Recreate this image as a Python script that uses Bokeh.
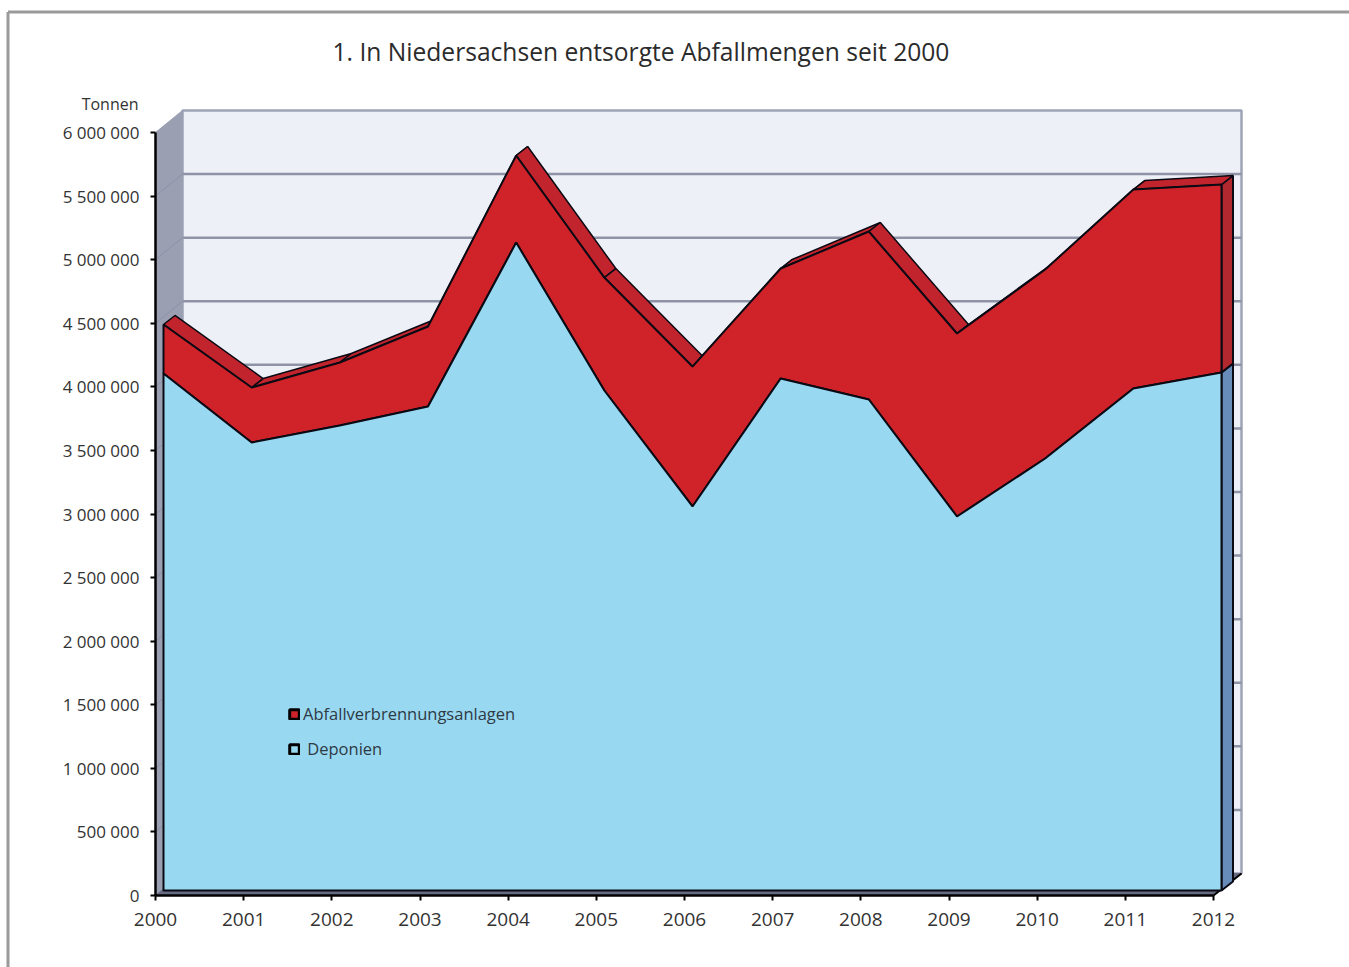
from bokeh.plotting import figure
from bokeh.embed import file_html
from bokeh.resources import INLINE
from bokeh.models import FixedTicker, Range1d, Legend, LegendItem, Label

TITLE = "1. In Niedersachsen entsorgte Abfallmengen seit 2000"
UNIT = "Tonnen"
FONT = "Open Sans"
years = [2000, 2001, 2002, 2003, 2004, 2005, 2006, 2007, 2008, 2009, 2010, 2011, 2012]
deponien = [4065000, 3523000, 3656000, 3806000, 5095000, 3932000, 3020000, 4026000, 3861000, 2941000, 3397000, 3947000, 4073000]
verbrennung = [386000, 432000, 496000, 629000, 685000, 888000, 1100000, 865000, 1321000, 1439000, 1486000, 1565000, 1479000]
y_ticks = [0, 500000, 1000000, 1500000, 2000000, 2500000, 3000000, 3500000, 4000000, 4500000, 5000000, 5500000, 6000000]
y_labels = ["0", "500 000", "1 000 000", "1 500 000", "2 000 000", "2 500 000", "3 000 000", "3 500 000", "4 000 000", "4 500 000", "5 000 000", "5 500 000", "6 000 000"]

W, H = 1349, 967
PXX = 1058 / 12            # px per year
PXY = 763 / 6000000        # px per tonne
LEFT_PX, BASE_PX = 155, 895  # position of the axis origin

def dx(px):
    return px / PXX
def dy(px):
    return px / PXY

x0 = 2000 + dx(-LEFT_PX)
x1 = 2000 + dx(W - LEFT_PX)
y0 = dy(BASE_PX - H)
y1 = dy(BASE_PX)

p = figure(width=W, height=H, output_backend="svg", toolbar_location=None,
           x_range=Range1d(x0, x1), y_range=Range1d(y0, y1), min_border=0,
           outline_line_color=None, background_fill_color="white", title=TITLE)
p.grid.visible = False
p.title.text_font = FONT
p.title.text_font_size = "24.6px"
p.title.text_font_style = "normal"
p.title.text_color = "#2b2b2b"
p.title.offset = 332
p.title.standoff = -134

# outer frame
GREY = "#9a9a9a"
fx, fy = x0 + dx(7.5), y1 - dy(11.5)
p.line([fx, x1], [fy, fy], line_color=GREY, line_width=3)
p.line([fx, fx], [y0, fy], line_color=GREY, line_width=3)

# depths
BACK_X, BACK_XL, BACK_Y = dx(28), dx(27), dy(22)
PLANE_X, PLANE_Y = dx(8), dy(5)
EXT_X, EXT_Y = dx(11.5), dy(9)
xa, xb = years[0], years[-1]
ymax = y_ticks[-1]

# back wall
p.patch([xa + BACK_XL, xb + BACK_X, xb + BACK_X, xa + BACK_XL],
        [BACK_Y, BACK_Y, ymax + BACK_Y, ymax + BACK_Y],
        fill_color="#eef0f7", line_color="#9ea3b5", line_width=2.5)
for t in y_ticks[1:-1]:
    p.line([xa + BACK_XL, xb + BACK_X], [t + BACK_Y] * 2, line_color="#8f93a6", line_width=2.5)
# left wall
p.patch([xa, xa + BACK_XL, xa + BACK_XL, xa], [0, BACK_Y, ymax + BACK_Y, ymax],
        fill_color="#9aa0b2", line_color="#9aa0b2", line_width=1)
for t in y_ticks[1:-1]:
    p.line([xa, xa + BACK_XL], [t, t + BACK_Y], line_color="#8d91a8", line_width=1)
# floor
p.patch([xa, xb, xb + BACK_X, xa + BACK_XL], [0, 0, BACK_Y, BACK_Y],
        fill_color="#676b82", line_color="#676b82", line_width=1)
p.line([xb, xb + BACK_X], [0, BACK_Y], line_color="black", line_width=2)

px = [x + PLANE_X for x in years]
low = [d + PLANE_Y for d in deponien]
top = [l + v for l, v in zip(low, verbrennung)]

RED, RED_TOP, RED_SIDE = "#cf2229", "#c2242d", "#b2282f"
BLUE, BLUE_SIDE = "#99d8f1", "#688cba"
OUT = "#0a0a14"

# right side faces
p.patch([px[-1], px[-1] + EXT_X, px[-1] + EXT_X, px[-1]],
        [PLANE_Y, PLANE_Y + EXT_Y, low[-1] + EXT_Y, low[-1]],
        fill_color=BLUE_SIDE, line_color=OUT, line_width=2)
p.patch([px[-1], px[-1] + EXT_X, px[-1] + EXT_X, px[-1]],
        [low[-1], low[-1] + EXT_Y, top[-1] + EXT_Y, top[-1]],
        fill_color=RED_SIDE, line_color=OUT, line_width=2)
# top faces; the steep rising ones end up behind the front
for i in range(len(years) - 1):
    p.patch([px[i], px[i + 1], px[i + 1] + EXT_X, px[i] + EXT_X],
            [top[i], top[i + 1], top[i + 1] + EXT_Y, top[i] + EXT_Y],
            fill_color=RED_TOP, line_color=OUT, line_width=1.5)

# legend keys with their own heavier outline: a single point, hidden behind the blue front
key_red = p.patch(px[6:7], [v / 2 for v in low[6:7]], fill_color=RED, line_color="black", line_width=3)
key_blue = p.patch(px[6:7], [v / 2 for v in low[6:7]], fill_color=BLUE, line_color="black", line_width=3)

# front faces
p.patch(px + px[::-1], top + low[::-1], fill_color=RED, line_color=OUT, line_width=2)
p.patch(px + px[::-1], low + [PLANE_Y] * len(px), fill_color=BLUE, line_color=OUT, line_width=2)

# axes
p.xaxis.fixed_location = 0
p.yaxis.fixed_location = 2000
for ax in (p.xaxis[0], p.yaxis[0]):
    ax.axis_line_color = "black"
    ax.axis_line_width = 2.5
    ax.major_tick_line_color = "black"
    ax.major_tick_line_width = 2
    ax.major_tick_in = 0
    ax.major_tick_out = 5
    ax.minor_tick_line_color = None
    ax.major_label_text_font = FONT
    ax.major_label_text_color = "#333333"
p.xaxis.ticker = FixedTicker(ticks=years)
p.xaxis.bounds = (years[0], years[-1])
p.xaxis.major_label_overrides = {y: str(y) for y in years}
p.xaxis.major_label_standoff = 12
p.xaxis.major_label_text_font_size = "19px"
p.yaxis.ticker = FixedTicker(ticks=y_ticks)
p.yaxis.bounds = (y_ticks[0], y_ticks[-1])
p.yaxis.major_label_overrides = dict(zip(y_ticks, y_labels))
p.yaxis.major_label_standoff = 11
p.yaxis.major_label_text_font_size = "17px"

p.add_layout(Label(x=2000 - dx(17), y=ymax + dy(29), text=UNIT, text_font=FONT,
                   text_font_size="16px", text_color="#333333",
                   text_align="right", text_baseline="middle"))

legend = Legend(items=[LegendItem(label="Abfallverbrennungsanlagen", renderers=[key_red]),
                       LegendItem(label=" Deponien", renderers=[key_blue])],
                location=(288, 207), background_fill_alpha=0, border_line_color=None,
                glyph_width=12, glyph_height=12, label_standoff=3, spacing=12, padding=0,
                margin=0, label_text_font=FONT, label_text_font_size="16.5px",
                label_text_color="#2e3a44")
p.add_layout(legend)

open("out.html", "w").write(file_html(p, INLINE))
